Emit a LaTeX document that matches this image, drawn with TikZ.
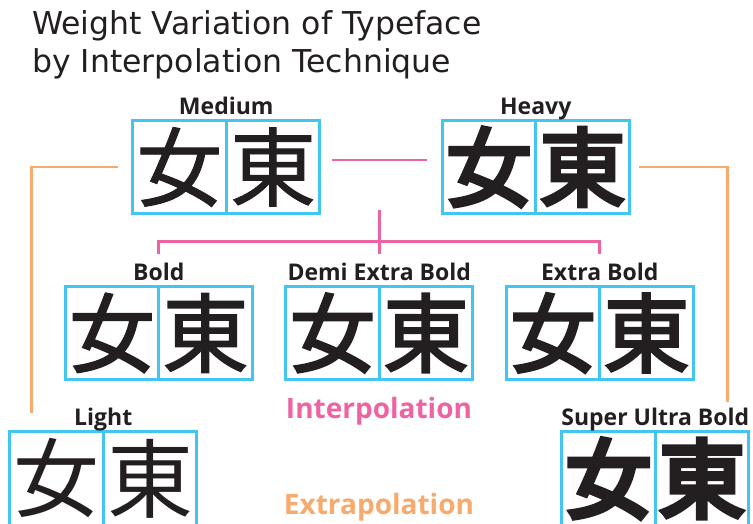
\documentclass[tikz,border=0pt]{standalone}
\usepackage{fontspec}
\setmainfont{Noto Sans}
\newfontfamily\titlefont{DejaVu Sans}
\newfontfamily\methodfont{Open Sans}
\newfontfamily\cjkLight{Noto Sans CJK JP}
\newfontfamily\cjkMedium[FakeBold=1]{Noto Sans CJK JP}
\newfontfamily\cjkBold[FakeBold=2]{Noto Sans CJK JP}
\newfontfamily\cjkDemi[FakeBold=2.6]{Noto Sans CJK JP}
\newfontfamily\cjkExtra[FakeBold=3.2]{Noto Sans CJK JP}
\newfontfamily\cjkHeavy[FakeBold=4.5]{Noto Sans CJK JP}
\newfontfamily\cjkSuper[FakeBold=6]{Noto Sans CJK JP}
\usepackage{tikz}
\usetikzlibrary{positioning}
\definecolor{cellblue}{RGB}{66,197,240}
\definecolor{interppink}{RGB}{238,100,163}
\definecolor{extraporange}{RGB}{246,170,110}
\definecolor{inkgray}{RGB}{35,31,32}

\begin{document}
\begin{tikzpicture}[x=1pt,y=-1pt,
      cell box/.style={draw=cellblue,line width=2.6pt,minimum size=93.5pt,inner sep=0pt,outer sep=0pt,
        text=inkgray,font=#1\fontsize{86}{86}\selectfont},
      weight label/.style={anchor=base,inner sep=0pt,text=inkgray,font=\methodfont\bfseries\fontsize{23}{23}\selectfont},
      method text/.style={anchor=base,inner sep=0pt,font=\methodfont\bfseries\fontsize{28}{28}\selectfont},
      title text/.style={anchor=base west,inner sep=0pt,text=inkgray,font=\titlefont\fontsize{31.5}{31.5}\selectfont},
      interp line/.style={draw=interppink,line width=2.6pt},
      extrap line/.style={draw=extraporange,line width=2.6pt}]
      \useasboundingbox (0,0) rectangle (753,524);

      % title
      \node[title text] (titleA) at (32,35) {Weight Variation of Typeface};
      \node[title text] (titleB) at (32,73) {by Interpolation Technique};

      % top row
      \node[cell box=\cjkMedium] (medA) at (179.5,167) {女};
      \node[cell box=\cjkMedium] (medB) [right=0pt of medA] {東};
      \node[cell box=\cjkHeavy] (heavyA) at (489,167) {女};
      \node[cell box=\cjkHeavy] (heavyB) [right=0pt of heavyA] {東};

      % middle row
      \node[cell box=\cjkBold] (boldA) at (112,333) {女};
      \node[cell box=\cjkBold] (boldB) [right=0pt of boldA] {東};
      \node[cell box=\cjkDemi] (demiA) at (332.5,333) {女};
      \node[cell box=\cjkDemi] (demiB) [right=0pt of demiA] {東};
      \node[cell box=\cjkExtra] (extraA) at (553,333) {女};
      \node[cell box=\cjkExtra] (extraB) [right=0pt of extraA] {東};

      % bottom row
      \node[cell box=\cjkLight] (lightA) at (56.5,478.5) {女};
      \node[cell box=\cjkLight] (lightB) [right=0pt of lightA] {東};
      \node[cell box=\cjkSuper] (superA) at (608.5,478.5) {女};
      \node[cell box=\cjkSuper] (superB) [right=0pt of superA] {東};

      % weight names
      \node[weight label] (medLab) at ([yshift=6pt]medA.north east) {Medium};
      \node[weight label] (heavyLab) at ([yshift=6pt]heavyA.north east) {Heavy};
      \node[weight label] (boldLab) at ([yshift=6pt]boldA.north east) {Bold};
      \node[weight label] (demiLab) at ([yshift=6pt]demiA.north east) {Demi Extra Bold};
      \node[weight label] (extraLab) at ([yshift=6pt]extraA.north east) {Extra Bold};
      \node[weight label] (lightLab) at ([yshift=6pt]lightA.north east) {Light};
      \node[weight label] (superLab) at ([yshift=6pt]superA.north east) {Super Ultra Bold};

      \node[method text,text=interppink] (interp) at (379,418) {Interpolation};
      \node[method text,text=extraporange] (extrap) at (379,514) {Extrapolation};

      % interpolation
      \draw[interp line] ([xshift=12pt,yshift=7pt]medB.east) -- ([xshift=-15pt,yshift=7pt]heavyA.west);
      \draw[interp line] ([yshift=76pt]demiA.north east) -- ([yshift=32pt]demiA.north east);
      \draw[interp line] ([yshift=32pt]boldA.north east) |- ([yshift=45pt]demiA.north east)
        -| ([yshift=32pt]extraA.north east);

      % extrapolation
      \draw[extrap line] ([xshift=-15pt]medA.west) -| ([xshift=22pt,yshift=19pt]lightA.north west);
      \draw[extrap line] ([xshift=10pt]heavyB.east) -| ([xshift=-21pt,yshift=30pt]superB.north east);
\end{tikzpicture}
\end{document}
